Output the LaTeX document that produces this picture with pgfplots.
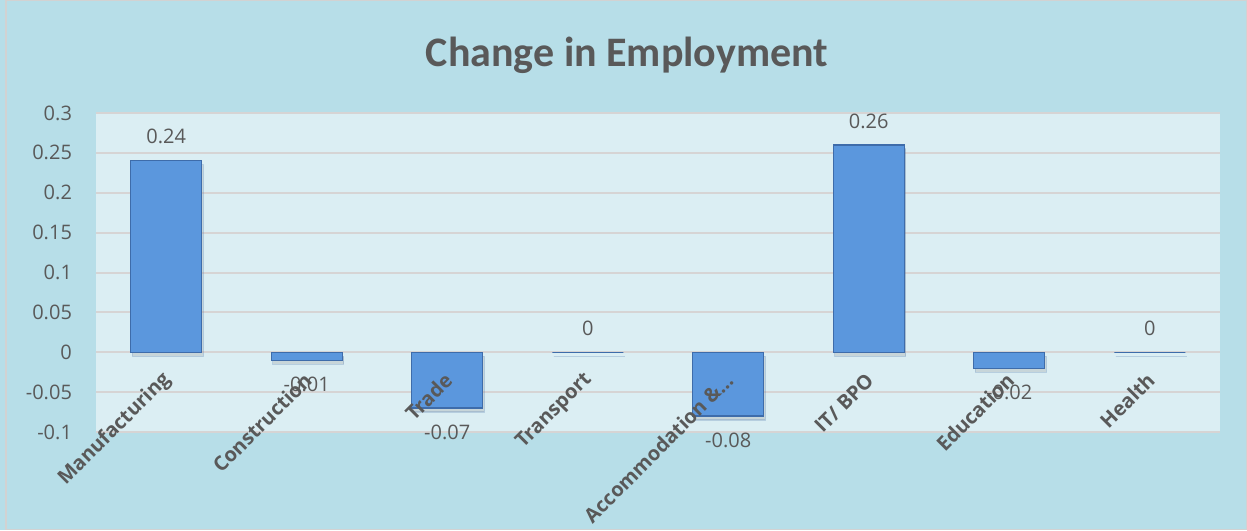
\documentclass[border=0pt]{standalone}
\usepackage{pgfplots}
\pgfplotsset{compat=1.18}
\usetikzlibrary{shadows}
\usepackage{fontspec}
\setmainfont{Open Sans}
\newfontfamily\titlefont{Carlito}
\definecolor{outerbg}{RGB}{183,222,232}
\definecolor{plotbg}{RGB}{219,238,243}
\definecolor{gridc}{RGB}{214,212,212}
\definecolor{txt}{RGB}{89,89,89}
\definecolor{barfill}{RGB}{91,151,221}
\definecolor{bardraw}{RGB}{62,108,170}

% 1 px of the reference = 0.5pt
\pgfplotsset{
    frame/.style={
        at={(48pt,49pt)}, anchor=south west,
        scale only axis,
        width=562pt, height=159.5pt,
        xmin=-0.5, xmax=7.5,
        ymin=-0.1, ymax=0.3,
        axis line style={draw=none},
        major tick length=0pt,
    },
}

\begin{document}
\begin{tikzpicture}
% chart area
\fill[outerbg] (0pt,0pt) rectangle (623.5pt,265pt);
\draw[gray!35, line width=0.6pt] (3pt,0.3pt) rectangle (623.2pt,264.7pt);
\node[font=\titlefont\bfseries\fontsize{21}{25}\selectfont, text=txt] at (313.5pt,237.5pt) {Change in Employment};

% bars, grid and values
\begin{axis}[
    frame,
    axis background/.style={fill=plotbg},
    ybar, bar width=35.5pt,
    ytick={-0.1,-0.05,0,0.05,0.1,0.15,0.2,0.25,0.3},
    scaled y ticks=false,
    ymajorgrids=true,
    grid style={gridc, line width=1pt},
    xtick=\empty,
    yticklabel style={font=\fontsize{10}{12}\selectfont, text=txt, xshift=-8.5pt},
    /pgf/number format/.cd, fixed, precision=2, assume math mode=true,
    /pgfplots/.cd,
    nodes near coords,
    nodes near coords style={font=\fontsize{10}{12}\selectfont, text=txt, inner ysep=8pt,
        /pgf/number format/assume math mode=true},
]
\addplot[fill=barfill, draw=bardraw, line width=0.6pt,
    drop shadow={opacity=0.22, shadow xshift=0.8pt, shadow yshift=-2pt}] coordinates {
    (0,0.24) (1,-0.01) (2,-0.07) (3,0) (4,-0.08) (5,0.26) (6,-0.02) (7,0)
};
\end{axis}

% category labels, drawn over the bars, hanging from the zero line
\begin{axis}[
    frame,
    ytick=\empty,
    xtick={0,1,2,3,4,5,6,7},
    xticklabels={Manufacturing,Construction,Trade,Transport,{Accommodation \&\ldots},IT/ BPO,Education,Health},
    xticklabel style={rotate=45, anchor=east, font=\bfseries\fontsize{10}{12}\selectfont, text=txt, inner sep=1pt, xshift=2pt},
    xticklabel shift=-27pt,
]
\end{axis}
\end{tikzpicture}
\end{document}
